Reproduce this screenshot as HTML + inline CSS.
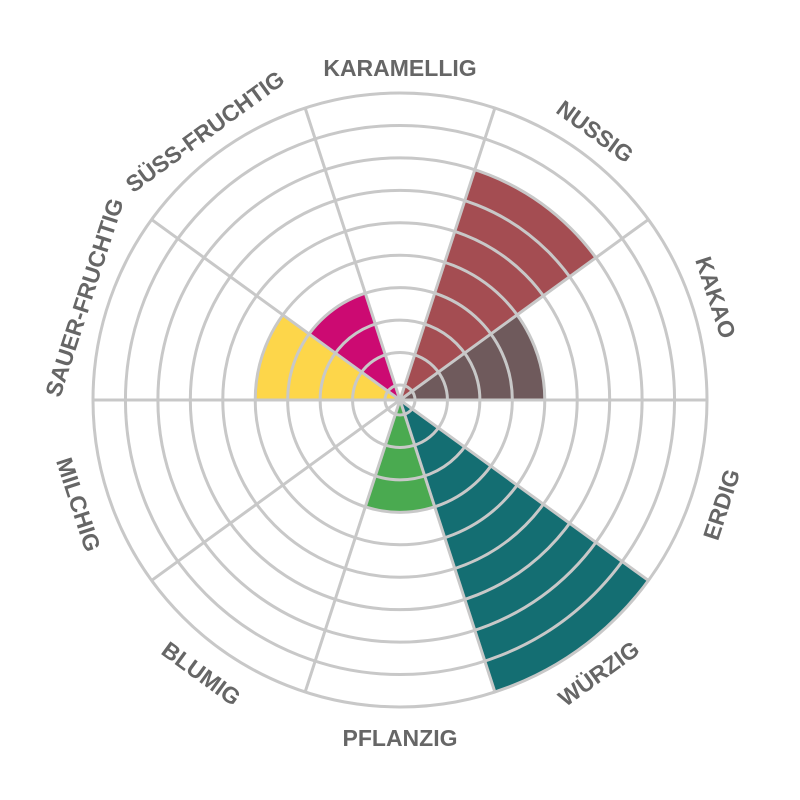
<!DOCTYPE html>
<html><head><meta charset="utf-8"><style>
html,body{margin:0;padding:0;background:#fff;}
svg{display:block;}
</style></head><body>
<svg id="chart" width="800" height="800" viewBox="0 0 800 800" xmlns="http://www.w3.org/2000/svg"></svg>
<script>
const categories = ["KARAMELLIG","NUSSIG","KAKAO","ERDIG","WÜRZIG","PFLANZIG","BLUMIG","MILCHIG","SAUER-FRUCHTIG","SÜSS-FRUCHTIG"];
const values = [0,7,4,0,9,3,0,0,4,3];
const colors = ["#ccc","#a44d52","#6f5a5c","#888","#146e72","#4aaa50","#888","#888","#fdd64a","#cc0a72"];
const maxValue = 9;

const NS = "http://www.w3.org/2000/svg";
const svg = document.getElementById("chart");
const cx = 400, cy = 400, r0 = 15, rMax = 307;
const step = (rMax - r0) / maxValue;
function rScale(v){ return r0 + v * step; }
function pt(aDeg, r){ const a = aDeg*Math.PI/180; return [cx + r*Math.sin(a), cy - r*Math.cos(a)]; }
const n = categories.length, sw = 360/n;

function mk(tag, attrs){ const e = document.createElementNS(NS, tag); for (const k in attrs) e.setAttribute(k, attrs[k]); svg.appendChild(e); return e; }

values.forEach((v,i)=>{
  if (v <= 0) return;
  const a0 = i*sw - sw/2, a1 = i*sw + sw/2, r = rScale(v);
  const p0 = pt(a0, r), p1 = pt(a1, r);
  const d = `M${cx},${cy} L${p0[0]},${p0[1]} A${r},${r} 0 0 1 ${p1[0]},${p1[1]} Z`;
  const w = mk("path", {d: d, fill: colors[i]});
  
  
});

for (let k=0;k<=maxValue;k++){
  const c = mk("circle",{cx:cx,cy:cy,r:rScale(k),fill:"none",stroke:"#c8c8c8","stroke-width":3});
  
  
}
for (let i=0;i<n;i++){
  const a = i*sw - sw/2; const p = pt(a, rMax);
  const l = mk("line",{x1:cx,y1:cy,x2:p[0],y2:p[1],stroke:"#c8c8c8","stroke-width":3});
  
  
}
categories.forEach((c,i)=>{
  const a = i*sw;
  let rot, rr;
  if (a <= 90) { rot = a; rr = 330; } else if (a < 270) { rot = a - 180; rr = 340; } else { rot = a - 360; rr = 330; }
  const p = pt(a, rr);
  const t = mk("text",{x:p[0],y:p[1],"text-anchor":"middle","dominant-baseline":"middle",
    transform:`rotate(${rot} ${p[0]} ${p[1]})`,fill:"#666","font-family":"Liberation Sans, sans-serif","font-size":23,"font-weight":"bold"});
  t.textContent = c;
  
  
});
</script>
</body></html>
